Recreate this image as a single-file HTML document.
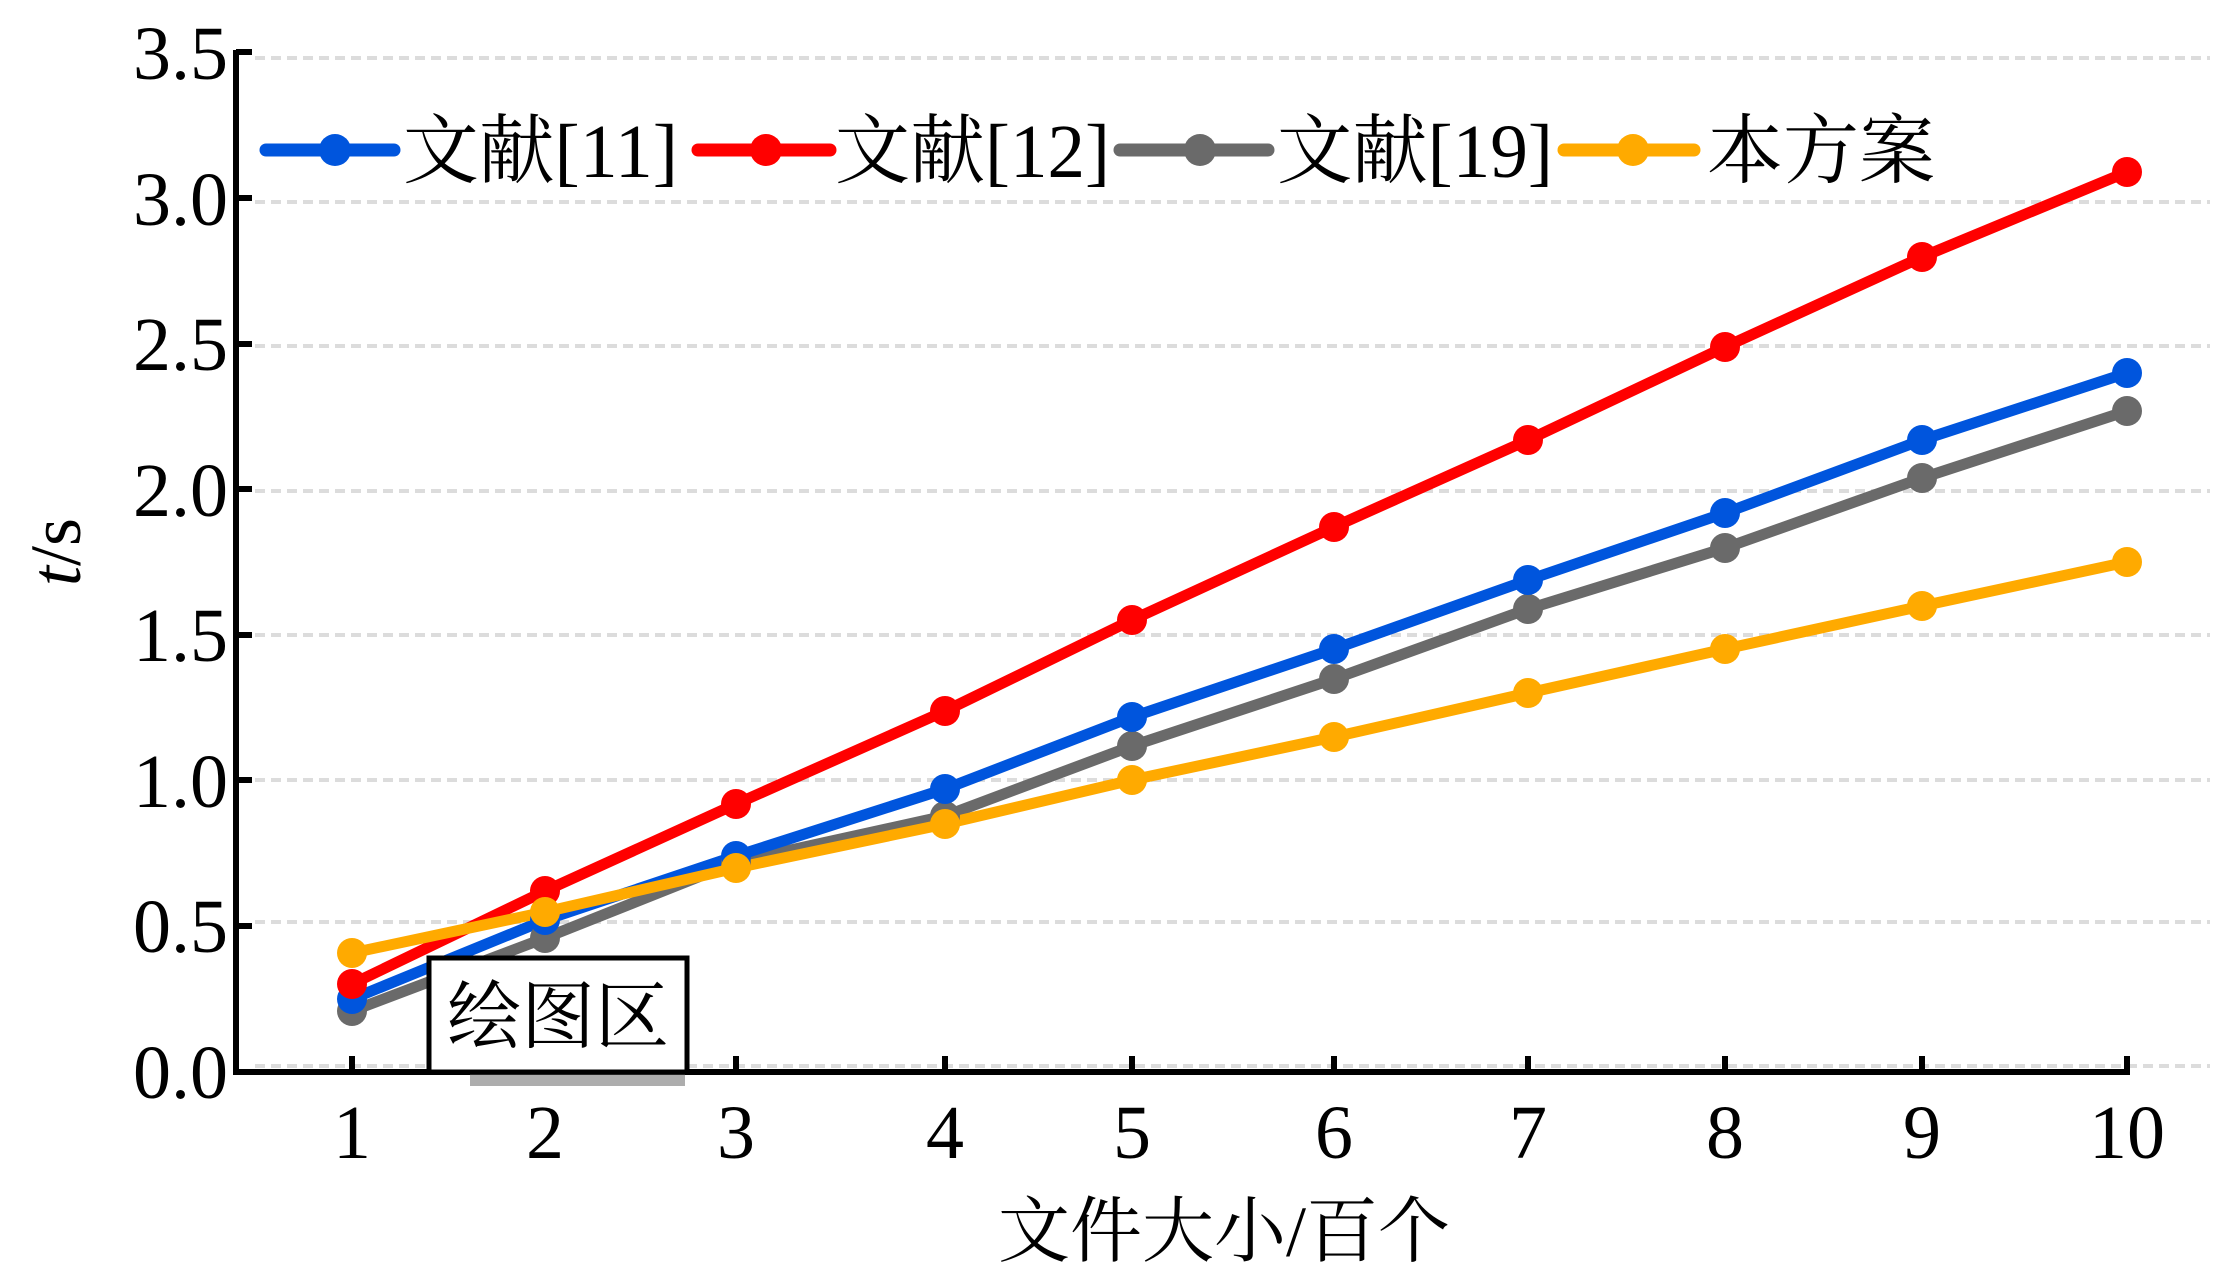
<!DOCTYPE html>
<html><head><meta charset="utf-8"><style>html,body{margin:0;padding:0;background:#fff}svg{display:block}text{font-family:"Liberation Serif","Noto Serif CJK SC",serif}</style></head>
<body>
<svg width="2218" height="1283" viewBox="0 0 2218 1283" xmlns="http://www.w3.org/2000/svg">
<g stroke="#dcdcdc" stroke-width="4" stroke-dasharray="10,6">
<line x1="255" y1="58" x2="2210" y2="58"/>
<line x1="255" y1="202" x2="2210" y2="202"/>
<line x1="255" y1="346" x2="2210" y2="346"/>
<line x1="255" y1="491" x2="2210" y2="491"/>
<line x1="255" y1="635" x2="2210" y2="635"/>
<line x1="255" y1="780" x2="2210" y2="780"/>
<line x1="255" y1="922" x2="2210" y2="922"/>
<line x1="255" y1="1066" x2="2210" y2="1066"/>
</g>
<g stroke="#000" stroke-width="6" fill="none">
<line x1="236" y1="50" x2="236" y2="1075"/>
<line x1="233" y1="1072" x2="2130" y2="1072"/>
<line x1="236" y1="52" x2="252" y2="52"/>
<line x1="236" y1="198" x2="252" y2="198"/>
<line x1="236" y1="344" x2="252" y2="344"/>
<line x1="236" y1="489" x2="252" y2="489"/>
<line x1="236" y1="635" x2="252" y2="635"/>
<line x1="236" y1="780" x2="252" y2="780"/>
<line x1="236" y1="926" x2="252" y2="926"/>
<line x1="352" y1="1072" x2="352" y2="1056"/><line x1="545" y1="1072" x2="545" y2="1056"/><line x1="736" y1="1072" x2="736" y2="1056"/><line x1="945" y1="1072" x2="945" y2="1056"/><line x1="1132" y1="1072" x2="1132" y2="1056"/><line x1="1334" y1="1072" x2="1334" y2="1056"/><line x1="1528" y1="1072" x2="1528" y2="1056"/><line x1="1725" y1="1072" x2="1725" y2="1056"/><line x1="1922" y1="1072" x2="1922" y2="1056"/><line x1="2127" y1="1072" x2="2127" y2="1056"/>
</g>
<g font-size="76" text-anchor="end" fill="#000">
<text x="228" y="79">3.5</text><text x="228" y="225">3.0</text><text x="228" y="370">2.5</text><text x="228" y="516">2.0</text><text x="228" y="661">1.5</text><text x="228" y="807">1.0</text><text x="228" y="952">0.5</text><text x="228" y="1098">0.0</text>
</g>
<g font-size="76" text-anchor="middle" fill="#000">
<text x="352" y="1158">1</text><text x="545" y="1158">2</text><text x="736" y="1158">3</text><text x="945" y="1158">4</text><text x="1132" y="1158">5</text><text x="1334" y="1158">6</text><text x="1528" y="1158">7</text><text x="1725" y="1158">8</text><text x="1922" y="1158">9</text><text x="2127" y="1158">10</text>
</g>
<text x="1224" y="1256" font-size="72" text-anchor="middle">文件大小/百个</text>
<text transform="translate(80,552) rotate(-90)" font-size="72" text-anchor="middle"><tspan font-style="italic">t</tspan>/s</text>
<g fill="none" stroke-width="11" stroke-linejoin="round">
<polyline stroke="#6a6a6a" points="352,1011 545,938 736,862 945,816 1132,746 1334,679 1528,609 1725,548 1922,478 2127,411"/>
<polyline stroke="#0055dd" points="352,999 545,920 736,856 945,789 1132,717 1334,649 1528,580 1725,513 1922,440 2127,373"/>
<polyline stroke="#ff0000" points="352,984 545,891 736,804 945,711 1132,620 1334,527 1528,440 1725,347 1922,257 2127,172"/>
<polyline stroke="#ffaa00" points="352,953 545,912 736,868 945,824 1132,780 1334,737 1528,693 1725,649 1922,606 2127,562"/>
</g>
<g fill="#6a6a6a"><circle cx="352" cy="1011" r="15"/><circle cx="545" cy="938" r="15"/><circle cx="736" cy="862" r="15"/><circle cx="945" cy="816" r="15"/><circle cx="1132" cy="746" r="15"/><circle cx="1334" cy="679" r="15"/><circle cx="1528" cy="609" r="15"/><circle cx="1725" cy="548" r="15"/><circle cx="1922" cy="478" r="15"/><circle cx="2127" cy="411" r="15"/></g>
<g fill="#0055dd"><circle cx="352" cy="999" r="15"/><circle cx="545" cy="920" r="15"/><circle cx="736" cy="856" r="15"/><circle cx="945" cy="789" r="15"/><circle cx="1132" cy="717" r="15"/><circle cx="1334" cy="649" r="15"/><circle cx="1528" cy="580" r="15"/><circle cx="1725" cy="513" r="15"/><circle cx="1922" cy="440" r="15"/><circle cx="2127" cy="373" r="15"/></g>
<g fill="#ff0000"><circle cx="352" cy="984" r="15"/><circle cx="545" cy="891" r="15"/><circle cx="736" cy="804" r="15"/><circle cx="945" cy="711" r="15"/><circle cx="1132" cy="620" r="15"/><circle cx="1334" cy="527" r="15"/><circle cx="1528" cy="440" r="15"/><circle cx="1725" cy="347" r="15"/><circle cx="1922" cy="257" r="15"/><circle cx="2127" cy="172" r="15"/></g>
<g fill="#ffaa00"><circle cx="352" cy="953" r="15"/><circle cx="545" cy="912" r="15"/><circle cx="736" cy="868" r="15"/><circle cx="945" cy="824" r="15"/><circle cx="1132" cy="780" r="15"/><circle cx="1334" cy="737" r="15"/><circle cx="1528" cy="693" r="15"/><circle cx="1725" cy="649" r="15"/><circle cx="1922" cy="606" r="15"/><circle cx="2127" cy="562" r="15"/></g>
<rect x="470" y="1074" width="215" height="12" fill="#777" opacity="0.6"/>
<rect x="429" y="958" width="258" height="114" fill="#fff" stroke="#000" stroke-width="5"/>
<text x="558" y="1042" font-size="74" text-anchor="middle">绘图区</text>
<g stroke-width="13" stroke-linecap="round">
<line x1="266" y1="150" x2="394" y2="150" stroke="#0055dd"/>
<line x1="698" y1="150" x2="830" y2="150" stroke="#ff0000"/>
<line x1="1120" y1="150" x2="1268" y2="150" stroke="#6a6a6a"/>
<line x1="1564" y1="150" x2="1694" y2="150" stroke="#ffaa00"/>
</g>
<circle cx="335" cy="150" r="16" fill="#0055dd"/>
<circle cx="766" cy="150" r="16" fill="#ff0000"/>
<circle cx="1200" cy="150" r="16" fill="#6a6a6a"/>
<circle cx="1633" cy="150" r="16" fill="#ffaa00"/>
<g font-size="76" fill="#000">
<text x="403" y="177" textLength="275" lengthAdjust="spacingAndGlyphs">文献[11]</text>
<text x="835" y="177" textLength="275" lengthAdjust="spacingAndGlyphs">文献[12]</text>
<text x="1277" y="177" textLength="276" lengthAdjust="spacingAndGlyphs">文献[19]</text>
<text x="1707" y="177" textLength="228" lengthAdjust="spacingAndGlyphs">本方案</text>
</g>
</svg>
</body></html>
